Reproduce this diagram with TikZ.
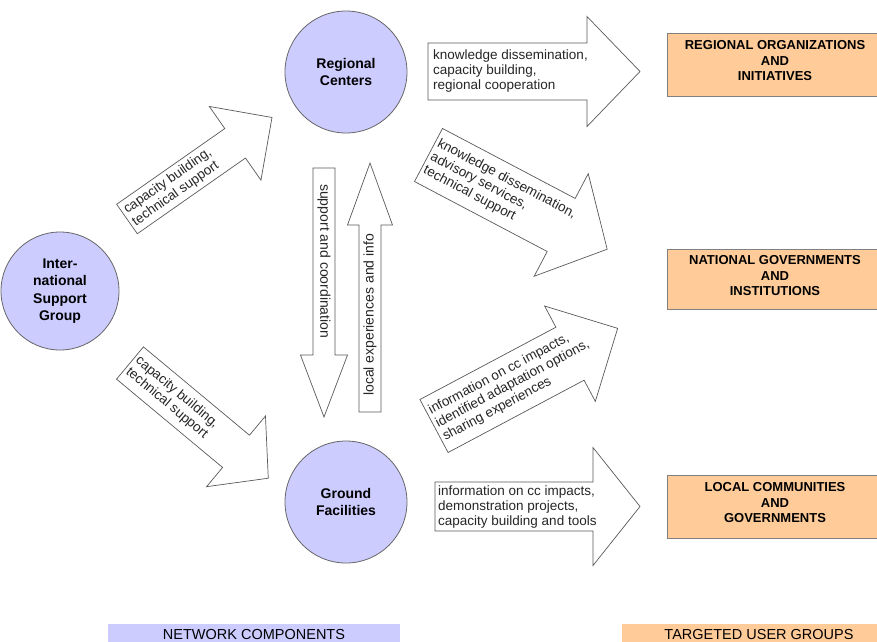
\documentclass[tikz,border=0pt]{standalone}
\usepackage{fontspec}
\setmainfont{Liberation Sans}
\definecolor{lav}{RGB}{204,204,255}
\definecolor{org}{RGB}{255,204,153}
% #1 name, #2 tail (x,y), #3 angle, #4 length, #5 shaft half, #6 head half, #7 head length, #8 text, #9 text offset
\newcommand{\barrow}[9]{%
  \begin{scope}[shift={#2},rotate=#3]
    \draw[blk] (0,#5) -- ({#4-#7},#5) -- ({#4-#7},#6) -- (#4,0) -- ({#4-#7},-#6) -- ({#4-#7},-#5) -- (0,-#5) -- cycle;
    \node[atext, transform shape, anchor=west] (#1) at (#9,0) {#8};
  \end{scope}}
\begin{document}
\begin{tikzpicture}[x=1pt,y=-1pt,
  circ/.style={circle, draw=black!60, fill=lav, line width=0.8pt, inner sep=0pt, align=center,
    font=\fontsize{14}{17.5}\selectfont\bfseries},
  ubox/.style={draw=black!50, fill=org, line width=0.9pt},
  boxtext/.style={align=center, inner sep=0pt, font=\fontsize{13}{15.5}\selectfont\bfseries},
  blk/.style={draw=black!65, fill=white, line width=0.7pt, line join=miter},
  atext/.style={align=left, inner sep=0pt, text=black!85, font=\fontsize{13.5}{15}\selectfont},
  legend/.style={anchor=north west, inner sep=0pt, font=\fontsize{14.5}{16}\selectfont}]
\useasboundingbox (0,0) rectangle (877,641);

% block arrows
\barrow{a1}{(428,71.5)}{0}{212}{28.5}{55}{53}{knowledge dissemination,\\capacity building,\\regional cooperation}{5}
\barrow{a2}{(435,506.5)}{0}{205}{24.5}{59}{47}{information on cc impacts,\\demonstration projects,\\capacity building and tools}{3}
\barrow{a3}{(324,168)}{-90}{249}{11}{23.5}{62}{{\fontsize{14}{16}\selectfont support and coordination}}{16}
\barrow{a4}{(370,412)}{90}{249}{11}{22.5}{62}{{\fontsize{14}{16}\selectfont local experiences and info}}{16}
\barrow{a5}{(127,219)}{35}{177}{18}{45}{45}{capacity building,\\technical support}{3}
\barrow{a6}{(130,363)}{-39.8}{180}{21}{46}{42}{capacity building,\\technical support}{3}
\barrow{a7}{(428.5,155)}{-27.8}{202}{30}{58}{52}{knowledge dissemination,\\advisory services,\\technical support}{3}
\barrow{a8}{(434,426)}{28}{208}{30}{54}{54}{information on cc impacts,\\identified adaptation options,\\sharing experiences}{3}

% network components
\node[circ, minimum size=122pt] (rc) at (346,72) {Regional\\Centers};
\node[circ, minimum size=122pt] (gf) at (346,502) {Ground\\Facilities};
\node[circ, minimum size=118pt] (isg) at (60,291) {Inter-\\national\\Support\\Group};

% targeted user groups
\node[ubox, minimum width=216pt, minimum height=63pt] (rog) at (775,64.5) {};
\node[boxtext] at ([yshift=3.5pt]rog.center) {REGIONAL ORGANIZATIONS\\AND\\INITIATIVES};
\node[ubox, minimum width=216pt, minimum height=60pt] (ngi) at (775,279) {};
\node[boxtext] at ([yshift=3pt]ngi.center) {NATIONAL GOVERNMENTS\\AND\\INSTITUTIONS};
\node[ubox, minimum width=216pt, minimum height=63pt] (lcg) at (775,506.5) {};
\node[boxtext] at ([yshift=3.5pt]lcg.center) {LOCAL COMMUNITIES\\AND\\GOVERNMENTS};

% legend
\node[legend, fill=lav, minimum width=292pt, minimum height=24pt] (lnc) at (108,624) {};
\node[font=\fontsize{14.5}{16}\selectfont, inner sep=0pt, anchor=base] at (254,639) {NETWORK COMPONENTS};
\node[legend, fill=org, minimum width=260pt, minimum height=24pt] (lug) at (622,624) {};
\node[font=\fontsize{14.5}{16}\selectfont, inner sep=0pt, anchor=base] at (759,639) {TARGETED USER GROUPS};
\end{tikzpicture}
\end{document}
